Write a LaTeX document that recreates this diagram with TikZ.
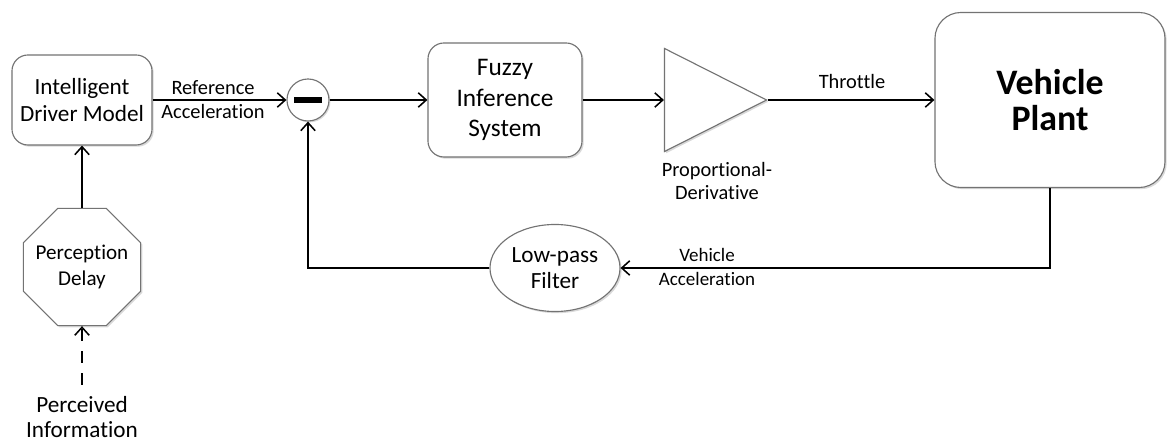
\documentclass[tikz,border=0pt]{standalone}
\usepackage{fontspec}
\setmainfont{Carlito}[Ligatures=NoCommon]
\usetikzlibrary{shapes,positioning,arrows.meta,shadows}

\begin{document}
\begin{tikzpicture}[
    x=0.025cm, y=-0.025cm,
    block/.style={rectangle, rounded corners=0.4cm, draw=black!55, line width=0.8pt, fill=white, align=center, font=\fontsize{16.5}{19.5}\selectfont, drop shadow={shadow xshift=1.2pt, shadow yshift=-1.2pt, opacity=0.3}},
    sumnode/.style={circle, draw=black!55, line width=0.8pt, fill=white, minimum size=1.05cm, inner sep=0pt, drop shadow={shadow xshift=1pt, shadow yshift=-1pt, opacity=0.3}},
    amp/.style={isosceles triangle, isosceles triangle stretches, draw=black!55, line width=0.8pt, fill=white, minimum width=2.575cm, minimum height=2.55cm, inner sep=0pt, drop shadow={shadow xshift=1.2pt, shadow yshift=-1.2pt, opacity=0.3}},
    filterbox/.style={ellipse, draw=black!55, line width=0.8pt, fill=white, align=center, minimum width=3.25cm, minimum height=2.175cm, inner sep=0pt, font=\fontsize{16.5}{18.5}\selectfont, drop shadow={shadow xshift=1.2pt, shadow yshift=-1.2pt, opacity=0.3}},
    delaybox/.style={regular polygon, regular polygon sides=8, draw=black!55, line width=0.8pt, fill=white, minimum size=3.17cm, inner sep=0pt, drop shadow={shadow xshift=1.2pt, shadow yshift=-1.2pt, opacity=0.3}},
    lbl/.style={align=center, font=\fontsize{14.5}{17}\selectfont},
    arrow/.style={-{Straight Barb[length=2mm,width=3.6mm]}, line width=1.1pt}
]
\useasboundingbox (0,0) rectangle (1167,444);

% Forward path
\node[block, minimum width=3.5cm, minimum height=2.25cm] (idm) at (82,100) {Intelligent\\Driver Model};
\node[sumnode] (sum) at (308,100) {};
\node[fill=black, minimum width=0.675cm, minimum height=0.16cm, inner sep=0pt] (minus) at (sum) {};
\node[block, minimum width=3.85cm, minimum height=2.85cm, font=\fontsize{18}{21.5}\selectfont] (fis) at (505,100) {Fuzzy\\Inference\\System};
\node[amp, anchor=apex] (pd) at (768,100) {};
\node[block, rounded corners=0.65cm, minimum width=5.75cm, minimum height=4.375cm, font=\fontsize{25.5}{25.5}\selectfont\bfseries] (plant) at (1050,100) {Vehicle\\Plant};

% Feedback and perception
\node[filterbox] (lpf) at (555,268) {Low-pass\\Filter};
\node[delaybox, label={[align=center, font=\fontsize{15}{19}\selectfont]center:Perception\\Delay}] (delay) at (82,267) {};
\node[align=center, inner sep=1pt, font=\fontsize{16.5}{18}\selectfont] (info) at (82,417) {Perceived\\Information};

% Labels
\node[lbl] (reflbl) at (213,100) {Reference\\Acceleration};
\node[lbl] (thrlbl) at (852,82) {Throttle};
\node[lbl] (pdlbl) at (717,181) {Proportional-\\Derivative};
\node[lbl, font=\fontsize{13.5}{17}\selectfont] (acclbl) at (707,267) {Vehicle\\Acceleration};

% Arrows
\draw[arrow] (idm) -- (sum);
\draw[arrow] (sum) -- (fis);
\draw[arrow] (fis) -- (pd);
\draw[arrow] (pd.apex) -- (plant);
\draw[arrow] (plant.south) |- (lpf);
\draw[arrow] (lpf) -| (sum);
\draw[arrow] (delay) -- (idm);
\draw[arrow, dash pattern=on 3mm off 2.5mm] ([yshift=7pt]info.north) -- (delay);

\end{tikzpicture}
\end{document}
